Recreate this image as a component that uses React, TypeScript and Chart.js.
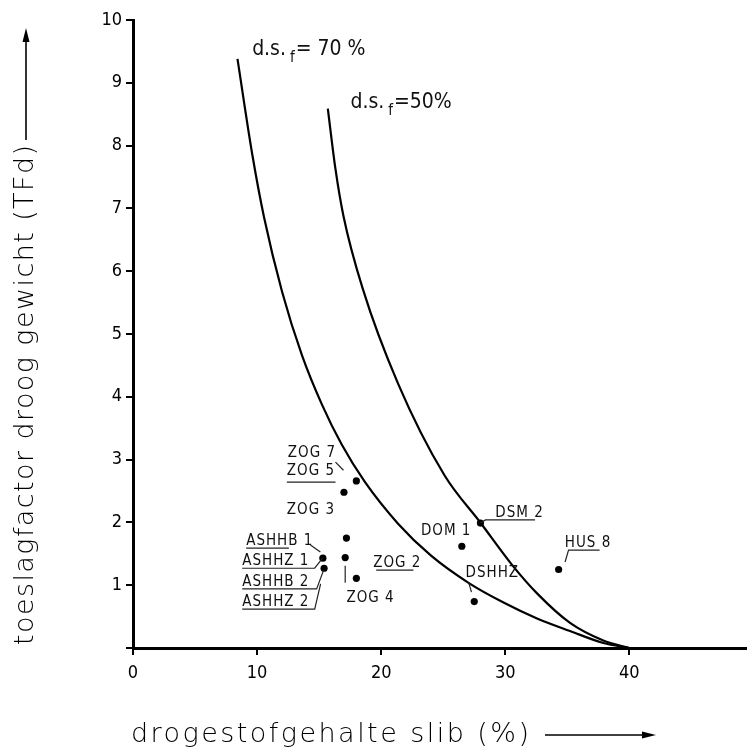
import React, { useEffect, useRef } from "react";
import { Chart, registerables } from "chart.js";
Chart.register(...registerables);

const FONT = '"DejaVu Sans Condensed", "DejaVu Sans", sans-serif';
const FONT_WIDE = '"DejaVu Sans", sans-serif';

// Axis ticks
const xTicks = [0, 10, 20, 30, 40];
const yTicks = [0, 1, 2, 3, 4, 5, 6, 7, 8, 9, 10];

// Curve d.s.f = 70 %
const curve70X = [8.42, 9.62, 10.56, 12.02, 13.62, 15.22, 16.82, 18.7, 21.36, 24.02, 27.1, 29.9, 32.56, 35.22, 37.9, 40];
const curve70Y = [9.38, 7.85, 6.86, 5.67, 4.66, 3.88, 3.24, 2.64, 1.98, 1.47, 1.03, 0.72, 0.47, 0.27, 0.08, 0];

// Curve d.s.f = 50 %
const curve50X = [15.7, 16.3, 16.96, 18.5, 21.36, 25.1, 28.02, 30.56, 32.56, 35.22, 37.9, 40];
const curve50Y = [8.59, 7.65, 6.88, 5.73, 4.21, 2.75, 1.99, 1.32, 0.87, 0.4, 0.12, 0];

// Measured samples
const sampleX = [18.0, 17.0, 17.2, 15.3, 15.4, 17.1, 18.0, 28.0, 26.5, 27.5, 34.3];
const sampleY = [2.66, 2.48, 1.75, 1.43, 1.27, 1.44, 1.11, 1.99, 1.62, 0.74, 1.25];

// Text annotations (data coordinates of left baseline)
const annotations = [
  { text: "ZOG 7", x: 12.48, y: 3.04 },
  { text: "ZOG 5", x: 12.4, y: 2.75 },
  { text: "ZOG 3", x: 12.4, y: 2.13 },
  { text: "ASHHB 1", x: 9.12, y: 1.64 },
  { text: "ASHHZ 1", x: 8.8, y: 1.32 },
  { text: "ASHHB 2", x: 8.8, y: 0.99 },
  { text: "ASHHZ 2", x: 8.8, y: 0.67 },
  { text: "ZOG 2", x: 19.36, y: 1.29 },
  { text: "ZOG 4", x: 17.2, y: 0.73 },
  { text: "DOM 1", x: 23.2, y: 1.8 },
  { text: "DSM 2", x: 29.2, y: 2.09 },
  { text: "DSHHZ", x: 26.8, y: 1.13 },
  { text: "HUS 8", x: 34.8, y: 1.61 },
];

// Underlines / leader lines (data coordinates)
const leaders: number[][][] = [
  [[16.32, 2.96], [16.96, 2.83]],
  [[12.4, 2.64], [16.32, 2.64]],
  [[9.12, 1.59], [12.56, 1.59]],
  [[14.3, 1.64], [15.1, 1.53]],
  [[8.8, 1.27], [14.64, 1.27], [15.28, 1.43]],
  [[8.8, 0.94], [14.8, 0.94], [15.36, 1.24]],
  [[8.8, 0.62], [14.64, 0.62], [15.12, 1.02]],
  [[19.6, 1.24], [22.6, 1.24]],
  [[17.1, 1.31], [17.1, 1.04]],
  [[28.0, 1.99], [28.4, 2.04], [32.4, 2.04]],
  [[27.04, 1.05], [27.28, 0.89]],
  [[34.82, 1.37], [35.1, 1.56], [37.6, 1.56]],
];

// Curve labels
const curveLabels = [
  { pre: "d.s.", sub: "f", post: "= 70 %", x: 9.6, y: 9.44 },
  { pre: "d.s.", sub: "f", post: "=50%", x: 17.52, y: 8.6 },
];

const yTitle = "toeslagfactor droog gewicht (TFd)";
const xTitle = "drogestofgehalte slib (%)";

function drawSpaced(ctx: CanvasRenderingContext2D, text: string, x: number, y: number, target: number) {
  (ctx as any).letterSpacing = "0px";
  const w = ctx.measureText(text).width;
  const ls = (target - w) / Math.max(1, text.length - 1);
  (ctx as any).letterSpacing = ls + "px";
  ctx.fillText(text, x, y);
  (ctx as any).letterSpacing = "0px";
}

const overlay = {
  id: "overlay",
  afterDraw(chart: any) {
    const ctx: CanvasRenderingContext2D = chart.ctx;
    const xs = chart.scales.x;
    const ys = chart.scales.y;
    const px = (v: number) => xs.getPixelForValue(v);
    const py = (v: number) => ys.getPixelForValue(v);
    ctx.save();
    ctx.fillStyle = "#111";
    ctx.strokeStyle = "#222";
    ctx.textBaseline = "alphabetic";
    ctx.textAlign = "left";

    // annotations
    ctx.font = `15px ${FONT}`;
    (ctx as any).letterSpacing = "1px";
    annotations.forEach((a) => ctx.fillText(a.text, px(a.x), py(a.y)));
    (ctx as any).letterSpacing = "0px";
    ctx.lineWidth = 1.2;
    leaders.forEach((seg) => {
      ctx.beginPath();
      seg.forEach((p, i) => (i === 0 ? ctx.moveTo(px(p[0]), py(p[1])) : ctx.lineTo(px(p[0]), py(p[1]))));
      ctx.stroke();
    });

    // curve labels
    curveLabels.forEach((c) => {
      let x = px(c.x);
      const y = py(c.y);
      ctx.font = `21px ${FONT}`;
      ctx.fillText(c.pre, x, y);
      x += ctx.measureText(c.pre).width + 4;
      ctx.font = `15px ${FONT}`;
      ctx.fillText(c.sub, x, y + 7);
      x += ctx.measureText(c.sub).width + 1;
      ctx.font = `21px ${FONT}`;
      ctx.fillText(c.post, x, y);
    });

    // y title (rotated)
    ctx.save();
    ctx.translate(33, 645);
    ctx.rotate(-Math.PI / 2);
    ctx.font = `200 27px ${FONT_WIDE}`;
    ctx.fillStyle = "#000";
    drawSpaced(ctx, yTitle, 0, 0, 500);
    ctx.restore();
    // y arrow
    ctx.strokeStyle = "#000";
    ctx.fillStyle = "#000";
    ctx.lineWidth = 1.6;
    ctx.beginPath();
    ctx.moveTo(26, 140);
    ctx.lineTo(26, 40);
    ctx.stroke();
    ctx.beginPath();
    ctx.moveTo(26, 28);
    ctx.lineTo(22.5, 42);
    ctx.lineTo(29.5, 42);
    ctx.closePath();
    ctx.fill();

    // x title
    ctx.font = `200 27px ${FONT_WIDE}`;
    drawSpaced(ctx, xTitle, 131, 742, 398);
    ctx.beginPath();
    ctx.moveTo(545, 735);
    ctx.lineTo(642, 735);
    ctx.stroke();
    ctx.beginPath();
    ctx.moveTo(656, 735);
    ctx.lineTo(642, 731.5);
    ctx.lineTo(642, 738.5);
    ctx.closePath();
    ctx.fill();

    ctx.restore();
  },
};

export default function App() {
  const ref = useRef<HTMLCanvasElement>(null);
  useEffect(() => {
    document.body.style.margin = "0";
    const canvas = ref.current!;
    const chart = new Chart(canvas, {
      type: "scatter",
      data: {
        datasets: [
          {
            type: "line",
            data: curve70X.map((x, i) => ({ x, y: curve70Y[i] })),
            borderColor: "#000",
            borderWidth: 2.2,
            pointRadius: 0,
            cubicInterpolationMode: "monotone",
            fill: false,
          } as any,
          {
            type: "line",
            data: curve50X.map((x, i) => ({ x, y: curve50Y[i] })),
            borderColor: "#000",
            borderWidth: 2.2,
            pointRadius: 0,
            cubicInterpolationMode: "monotone",
            fill: false,
          } as any,
          {
            type: "scatter",
            data: sampleX.map((x, i) => ({ x, y: sampleY[i] })),
            pointRadius: 3.6,
            backgroundColor: "#000",
            borderWidth: 0,
          } as any,
        ],
      },
      options: {
        animation: false,
        responsive: false,
        devicePixelRatio: 1,
        layout: { padding: { top: 20, right: 0, left: 0, bottom: 0 } },
        plugins: { legend: { display: false }, tooltip: { enabled: false } },
        scales: {
          x: {
            type: "linear",
            min: 0,
            max: 49.4,
            afterBuildTicks: (s: any) => {
              s.ticks = xTicks.map((v) => ({ value: v }));
            },
            afterFit: (s: any) => {
              s.height = 107;
            },
            grid: { display: true, drawOnChartArea: false, drawTicks: true, tickLength: 7, color: "#000", lineWidth: 2 },
            border: { display: true, color: "#000", width: 3 },
            ticks: { color: "#000", font: { family: FONT, size: 18 }, padding: 8, maxRotation: 0 },
          },
          y: {
            type: "linear",
            min: 0,
            max: 10,
            afterBuildTicks: (s: any) => {
              s.ticks = yTicks.map((v) => ({ value: v }));
            },
            afterFit: (s: any) => {
              s.width = 133;
            },
            grid: { display: true, drawOnChartArea: false, drawTicks: true, tickLength: 7, color: "#000", lineWidth: 2 },
            border: { display: true, color: "#000", width: 3 },
            ticks: {
              color: "#000",
              font: { family: FONT, size: 18 },
              padding: 4,
              callback: (v: any) => (v === 0 ? "" : String(v)),
            },
          },
        },
      } as any,
      plugins: [overlay],
    });
    return () => chart.destroy();
  }, []);
  return (
    <div style={{ width: 750, height: 755, background: "#fff" }}>
      <canvas ref={ref} width={750} height={755} style={{ display: "block" }} />
    </div>
  );
}
